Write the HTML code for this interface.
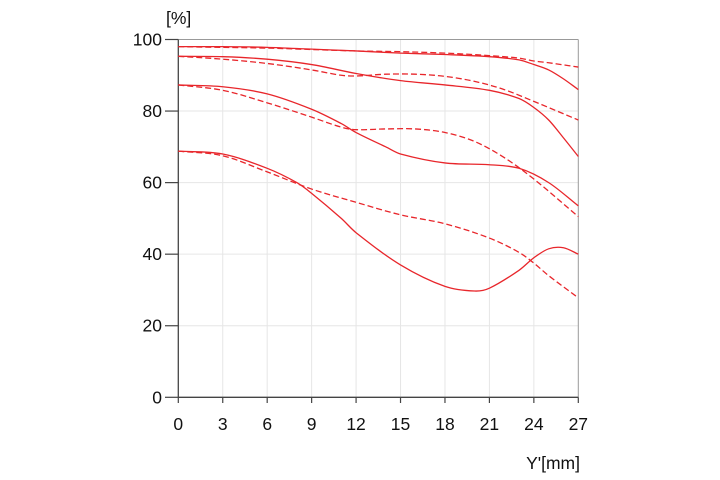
<!DOCTYPE html>
<html><head><meta charset="utf-8"><style>
html,body{margin:0;padding:0;background:#fff;}
svg{display:block;font-family:"Liberation Sans",sans-serif;}
</style></head><body>
<svg id="s" width="720" height="480" viewBox="0 0 720 480" xmlns="http://www.w3.org/2000/svg">
<g id="grid" stroke="#e6e6e6" stroke-width="1"></g>
<line x1="178.3" y1="39.5" x2="578.3" y2="39.5" stroke="#999" stroke-width="1"/>
<line x1="578.3" y1="39.5" x2="578.3" y2="397.3" stroke="#999" stroke-width="1"/>
<line x1="178.3" y1="39.5" x2="178.3" y2="397.3" stroke="#444" stroke-width="1.3"/>
<line x1="178.3" y1="397.3" x2="578.3" y2="397.3" stroke="#444" stroke-width="1.3"/>
<g id="ticks" stroke="#444" stroke-width="1.2"></g>
<g id="labels" font-size="17.5" fill="#111"></g>
<text x="166" y="24" font-size="17.5" fill="#111">[%]</text>
<text x="580" y="469" font-size="17.5" fill="#111" text-anchor="end">Y'[mm]</text>
<g id="curves" fill="none" stroke="#e8262b" stroke-width="1.3"></g>
</svg>
<script>
var X=function(m){return 178.3+m*400/27;},Y=function(p){return 397.3-p*3.578;};
var ns="http://www.w3.org/2000/svg";
function el(t,a,p){var e=document.createElementNS(ns,t);for(var k in a)e.setAttribute(k,a[k]);document.getElementById(p).appendChild(e);return e;}
for(var i=1;i<9;i++){el("line",{x1:X(i*3),y1:39.5,x2:X(i*3),y2:397.3},"grid");}
for(var i=1;i<5;i++){el("line",{x1:178.3,y1:Y(i*20),x2:578.3,y2:Y(i*20)},"grid");}
for(var i=0;i<=9;i++){el("line",{x1:X(i*3),y1:397.3,x2:X(i*3),y2:403},"ticks");
 var t=el("text",{x:X(i*3),y:430,"text-anchor":"middle"},"labels");t.textContent=i*3;}
for(var i=0;i<=5;i++){el("line",{x1:165,y1:Y(i*20),x2:178.3,y2:Y(i*20)},"ticks");
 var t=el("text",{x:162,y:Y(i*20)+6,"text-anchor":"end"},"labels");t.textContent=i*20;}
var C=[
[0,[[0,98],[3,98],[6,97.8],[9,97.3],[12,96.8],[15,96.2],[18,95.8],[21,95.2],[23,94.3],[24,93],[25,91.5],[26,89],[27,86]]],
[1,[[0,98],[3,97.8],[6,97.6],[9,97.2],[12,96.8],[15,96.6],[18,96.2],[21,95.5],[23,94.8],[24,94],[25,93.5],[27,92.3]]],
[0,[[0,95.3],[3,95.2],[6,94.5],[9,93],[12,90.5],[15,88.5],[18,87.3],[21,85.8],[23,83.5],[24,81],[25,77.5],[26,72.5],[27,67.3]]],
[1,[[0,95.3],[3,94.5],[6,93.3],[9,91.5],[11,90],[12,89.8],[14,90.3],[16,90.3],[18,89.7],[20,88.3],[22,86],[24,82.7],[27,77.5]]],
[0,[[0,87.3],[3,86.8],[6,84.8],[9,80.5],[11,76.5],[12,74],[14,70],[15,68],[18,65.5],[21,65],[23,64],[25,60],[27,53.5]]],
[1,[[0,87.3],[3,85.8],[6,82.3],[9,78.3],[11,75.5],[12,74.8],[14,75],[16,75],[18,74],[20,71.5],[22,67],[24,61],[27,50.5]]],
[0,[[0,68.8],[3,68],[6,64],[8,60],[9,57],[11,50],[12,46],[15,37],[18,31],[20,29.7],[21,30.5],[23,35.5],[24,39],[25,41.5],[26,41.8],[27,40]]],
[1,[[0,68.8],[3,67.5],[6,63],[9,58.2],[12,54.5],[15,51],[18,48.5],[21,44.5],[23,40.5],[24,37.5],[25,34],[27,27.8]]]
];
C.forEach(function(c){
 var p=c[1].map(function(q){return [X(q[0]),Y(q[1])];});
 var n=p.length,m=[];
 for(var i=0;i<n;i++){
  var a=p[Math.max(0,i-1)],b=p[Math.min(n-1,i+1)];
  m.push((b[1]-a[1])/(b[0]-a[0]));
 }
 var d="M"+p[0][0]+","+p[0][1];
 for(var i=0;i<n-1;i++){
  var h=(p[i+1][0]-p[i][0])/3;
  d+=" C"+(p[i][0]+h)+","+(p[i][1]+m[i]*h)+" "+(p[i+1][0]-h)+","+(p[i+1][1]-m[i+1]*h)+" "+p[i+1][0]+","+p[i+1][1];
 }
 var a={d:d};if(c[0])a["stroke-dasharray"]="6,3";
 el("path",a,"curves");
});
</script>
</body></html>
